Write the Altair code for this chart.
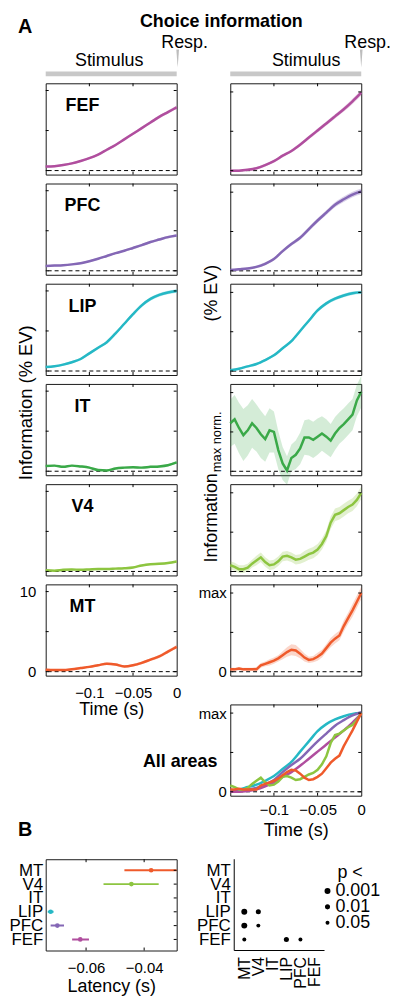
import altair as alt
import pandas as pd

FONT = "Liberation Sans"

# ---------------- data ----------------
T16 = [-0.15, -0.14, -0.13, -0.12, -0.11, -0.10, -0.09, -0.08, -0.07, -0.06,
       -0.05, -0.04, -0.03, -0.02, -0.01, 0.0]
T31 = [-0.15, -0.145, -0.14, -0.135, -0.13, -0.125, -0.12, -0.115, -0.11, -0.105,
       -0.10, -0.095, -0.09, -0.085, -0.08, -0.075, -0.07, -0.065, -0.06, -0.055,
       -0.05, -0.045, -0.04, -0.035, -0.03, -0.025, -0.02, -0.015, -0.01, -0.005, 0.0]

AREAS = ["FEF", "PFC", "LIP", "IT", "V4", "MT"]
COLORS = ["#B04E9E", "#8467B5", "#25B8C5", "#3AA948", "#8DC540", "#EF5A2B"]

# information, % explained variance (left column)
FEF_ABS = [0.50, 0.55, 0.70, 0.90, 1.20, 1.55, 2.00, 2.60, 3.20, 3.90, 4.60, 5.30, 6.00, 6.70, 7.30, 7.90]
FEF_ABS_ERR = [0.12, 0.12, 0.12, 0.13, 0.13, 0.14, 0.14, 0.15, 0.15, 0.16, 0.17, 0.18, 0.19, 0.20, 0.21, 0.22]
PFC_ABS = [0.60, 0.65, 0.70, 0.80, 0.95, 1.20, 1.50, 1.85, 2.20, 2.50, 2.85, 3.20, 3.60, 3.90, 4.20, 4.40]
PFC_ABS_ERR = [0.10, 0.10, 0.10, 0.10, 0.11, 0.11, 0.12, 0.12, 0.13, 0.13, 0.14, 0.14, 0.15, 0.15, 0.16, 0.16]
LIP_ABS = [0.50, 0.60, 0.80, 1.10, 1.50, 2.20, 2.90, 3.60, 4.70, 5.90, 7.10, 8.20, 9.00, 9.50, 9.80, 10.00]
LIP_ABS_ERR = [0.12, 0.12, 0.13, 0.14, 0.15, 0.16, 0.17, 0.18, 0.19, 0.20, 0.21, 0.22, 0.22, 0.22, 0.22, 0.22]
IT_ABS = [0.65, 0.70, 0.55, 0.70, 0.60, 0.45, 0.15, 0.10, 0.35, 0.45, 0.50, 0.45, 0.55, 0.60, 0.75, 1.10]
IT_ABS_ERR = [0.12, 0.12, 0.12, 0.12, 0.12, 0.12, 0.12, 0.12, 0.12, 0.12, 0.12, 0.12, 0.12, 0.13, 0.13, 0.14]
V4_ABS = [0.15, 0.10, 0.20, 0.25, 0.20, 0.25, 0.30, 0.30, 0.35, 0.40, 0.50, 0.75, 0.90, 0.95, 1.05, 1.25]
V4_ABS_ERR = [0.10, 0.10, 0.10, 0.10, 0.10, 0.10, 0.10, 0.10, 0.10, 0.10, 0.10, 0.11, 0.11, 0.12, 0.12, 0.13]
MT_ABS = [0.25, 0.20, 0.20, 0.30, 0.45, 0.60, 0.80, 1.00, 0.90, 0.65, 0.80, 1.10, 1.50, 1.90, 2.50, 3.10]
MT_ABS_ERR = [0.10, 0.10, 0.10, 0.11, 0.12, 0.13, 0.14, 0.15, 0.15, 0.15, 0.16, 0.17, 0.18, 0.19, 0.20, 0.22]

# information normalised to its maximum (right column)
FEF_NORM = [0.00, 0.00, 0.01, 0.03, 0.07, 0.12, 0.19, 0.25, 0.33, 0.42, 0.51, 0.60, 0.69, 0.78, 0.88, 0.99]
FEF_NORM_ERR = [0.015, 0.015, 0.015, 0.016, 0.017, 0.018, 0.019, 0.020, 0.021, 0.022, 0.024, 0.026, 0.028, 0.030, 0.033, 0.035]
PFC_NORM = [0.01, 0.02, 0.03, 0.05, 0.09, 0.15, 0.25, 0.34, 0.42, 0.53, 0.64, 0.74, 0.84, 0.91, 0.97, 1.01]
PFC_NORM_ERR = [0.015, 0.015, 0.016, 0.017, 0.018, 0.019, 0.020, 0.022, 0.024, 0.026, 0.028, 0.030, 0.032, 0.034, 0.036, 0.038]
LIP_NORM = [0.01, 0.03, 0.06, 0.09, 0.14, 0.20, 0.29, 0.38, 0.51, 0.64, 0.77, 0.86, 0.92, 0.96, 0.99, 1.00]
LIP_NORM_ERR = [0.012, 0.012, 0.013, 0.014, 0.015, 0.016, 0.017, 0.018, 0.019, 0.020, 0.021, 0.022, 0.022, 0.022, 0.022, 0.022]
IT_NORM = [0.61, 0.66, 0.55, 0.46, 0.52, 0.61, 0.55, 0.47, 0.41, 0.52, 0.50, 0.27, 0.10, 0.01, 0.17, 0.21,
           0.29, 0.43, 0.43, 0.40, 0.44, 0.48, 0.44, 0.39, 0.48, 0.55, 0.60, 0.66, 0.72, 0.90, 1.01]
IT_NORM_ERR = [0.30, 0.31, 0.32, 0.33, 0.32, 0.31, 0.30, 0.30, 0.29, 0.28, 0.26, 0.24, 0.21, 0.18, 0.17, 0.18,
               0.20, 0.22, 0.23, 0.23, 0.23, 0.22, 0.22, 0.21, 0.21, 0.20, 0.20, 0.20, 0.20, 0.20, 0.20]
V4_NORM = [0.08, 0.06, 0.03, 0.03, 0.05, 0.10, 0.14, 0.18, 0.12, 0.08, 0.09, 0.13, 0.19, 0.20, 0.18, 0.15,
           0.16, 0.19, 0.22, 0.24, 0.28, 0.35, 0.45, 0.62, 0.72, 0.74, 0.78, 0.82, 0.85, 0.91, 1.00]
V4_NORM_ERR = [0.05, 0.05, 0.05, 0.05, 0.05, 0.05, 0.06, 0.06, 0.06, 0.06, 0.06, 0.06, 0.06, 0.06, 0.06, 0.06,
               0.06, 0.07, 0.07, 0.07, 0.07, 0.07, 0.07, 0.08, 0.08, 0.08, 0.08, 0.08, 0.08, 0.08, 0.08]
MT_NORM = [0.03, 0.03, 0.04, 0.03, 0.03, 0.03, 0.03, 0.08, 0.10, 0.12, 0.14, 0.17, 0.21, 0.25, 0.28, 0.27,
           0.23, 0.18, 0.15, 0.16, 0.19, 0.23, 0.30, 0.37, 0.42, 0.46, 0.58, 0.68, 0.78, 0.89, 1.00]
MT_NORM_ERR = [0.02, 0.02, 0.02, 0.02, 0.02, 0.02, 0.03, 0.03, 0.03, 0.04, 0.04, 0.04, 0.05, 0.06, 0.07, 0.07,
               0.06, 0.05, 0.04, 0.04, 0.05, 0.05, 0.05, 0.06, 0.06, 0.06, 0.07, 0.07, 0.08, 0.08, 0.08]

# panel B
ROW_ORDER = ["MT", "V4", "IT", "LIP", "PFC", "FEF"]
LAT_AREA = ["MT", "V4", "LIP", "PFC", "FEF"]
LAT_MEAN = [-0.0376, -0.0444, -0.0722, -0.0699, -0.0620]
LAT_LO = [-0.0468, -0.0540, -0.0732, -0.0722, -0.0648]
LAT_HI = [-0.0280, -0.0350, -0.0712, -0.0676, -0.0590]

SIG_ROW = ["LIP", "LIP", "PFC", "PFC", "FEF", "FEF", "FEF"]
SIG_COL = ["MT", "V4", "MT", "V4", "MT", "LIP", "PFC"]
SIG_P = ["0.001", "0.01", "0.001", "0.05", "0.05", "0.01", "0.05"]
P_LEVELS = ["0.001", "0.01", "0.05"]
P_SIZES = [36, 16, 6]

TIME_TICKS = [-0.1, -0.05, 0.0]
ABS_TICKS = [0, 5, 10]
NORM_TICKS = [0, 0.5, 1]

# ---------------- helpers ----------------
W, H = 132, 92
XS = alt.Scale(domain=[-0.15, 0.0], nice=False, zero=False)
YA = alt.Scale(domain=[-0.5, 10.9], nice=False, zero=False)
YN = alt.Scale(domain=[-0.05, 1.11], nice=False, zero=False)
NOBOX = alt.ViewBackground(stroke="transparent")
COLOR = dict(zip(AREAS, COLORS))


def text_layer(s, x, y, size=18, bold=False, align="center", baseline="alphabetic", angle=0):
    kw = dict(font=FONT, fontSize=size, align=align, baseline=baseline, color="black")
    if bold:
        kw["fontWeight"] = "bold"
    if angle:
        kw["angle"] = angle
    return alt.Chart(pd.DataFrame({"s": [s]})).mark_text(**kw).encode(
        x=alt.value(x), y=alt.value(y), text="s:N")


def inward_ticks(xt, yt, xscale, yscale, xaxis, yaxis, L=3, xtype="Q", ytype="Q",
                 sides=("b", "t", "l", "r")):
    out = []
    tx = pd.DataFrame({"tv": xt})
    ty = pd.DataFrame({"tv": yt})
    for side, a, b in [("b", H, H - L), ("t", 0, L)]:
        if side in sides and xt:
            out.append(alt.Chart(tx).mark_rule(color="black", strokeWidth=1).encode(
                x=alt.X(f"tv:{xtype}", scale=xscale, axis=xaxis), y=alt.value(a), y2=alt.value(b)))
    for side, a, b in [("l", 0, L), ("r", W, W - L)]:
        if side in sides and yt:
            out.append(alt.Chart(ty).mark_rule(color="black", strokeWidth=1).encode(
                y=alt.Y(f"tv:{ytype}", scale=yscale, axis=yaxis), x=alt.value(a), x2=alt.value(b)))
    return out


def time_axis(lp, tp):
    return alt.Axis(values=TIME_TICKS, title="Time (s)", labelPadding=lp, titlePadding=tp,
                    labelFlush=False, labelOverlap=False,
                    labelExpr="datum.value == 0 ? '0' : (datum.value < -0.075 ? '\u22120.1' : '\u22120.05')")


def zero_line(yscale, yaxis):
    return alt.Chart(pd.DataFrame({"z": [0.0]})).mark_rule(
        color="black", strokeDash=[4, 3], strokeWidth=1).encode(y=alt.Y("z:Q", scale=yscale, axis=yaxis))


def trace_panel(t, v, e, color, yscale, yticks, name=None, xaxis=None, yaxis=None,
                interp="monotone", band_op=0.3, extra=()):
    df = pd.DataFrame({"t": t, "v": v, "e": e})
    df["lo"] = df["v"] - df["e"]
    df["hi"] = df["v"] + df["e"]
    band = alt.Chart(df).mark_area(color=color, opacity=band_op, interpolate=interp).encode(
        x=alt.X("t:Q", scale=XS, axis=xaxis),
        y=alt.Y("lo:Q", scale=yscale, axis=yaxis), y2="hi:Q")
    line = alt.Chart(df).mark_line(color=color, strokeWidth=2.5, interpolate=interp).encode(
        x=alt.X("t:Q", scale=XS, axis=xaxis), y=alt.Y("v:Q", scale=yscale, axis=yaxis))
    layers = [band, zero_line(yscale, yaxis), line] + inward_ticks([-0.1, -0.05], yticks, XS, yscale,
                                                                   xaxis, yaxis)
    if name:
        layers.append(text_layer(name, 37, 28, size=18, bold=True))
    layers += list(extra)
    return alt.layer(*layers).properties(width=W, height=H)


def header_layers(stim_cx, resp_cx, marker_dx):
    bar = alt.Chart(pd.DataFrame({"a": [-0.15], "b": [0.0]})).mark_rule(
        color="#C8C8C8", strokeWidth=5).encode(
        x=alt.X("a:Q", scale=XS, axis=None), x2="b:Q", y=alt.value(-9.5))
    marker = alt.Chart(pd.DataFrame({"a": [0.0]})).mark_point(
        shape="M-0.15,-1L0.15,-1L0,1Z", filled=True, color="#BDBDBD", opacity=1, size=324,
        xOffset=marker_dx).encode(x=alt.X("a:Q", scale=XS, axis=None), y=alt.value(-25))
    return [bar, marker,
            text_layer("Stimulus", stim_cx, -17),
            text_layer("Resp.", resp_cx, -36)]


AXL_ABS = alt.Axis(values=[0, 10], title=None, labelPadding=10, labelFlush=False, labelOverlap=False)
AXL_NORM = alt.Axis(values=[0, 1], title=None, labelPadding=4, labelFlush=False, labelOverlap=False,
                    labelExpr="datum.value == 1 ? 'max' : '0'")

# ---------------- panel A ----------------
fef_l = trace_panel(T16, FEF_ABS, FEF_ABS_ERR, COLOR["FEF"], YA, ABS_TICKS, name="FEF",
                    extra=header_layers(64, 140, 1) + [
                        text_layer("A", -28, -51, size=20, bold=True, align="left"),
                        text_layer("Choice information", 177, -57, size=18, bold=True)])
fef_r = trace_panel(T16, FEF_NORM, FEF_NORM_ERR, COLOR["FEF"], YN, NORM_TICKS,
                    extra=header_layers(76.5, 138.5, 0))
pfc_l = trace_panel(T16, PFC_ABS, PFC_ABS_ERR, COLOR["PFC"], YA, ABS_TICKS, name="PFC")
pfc_r = trace_panel(T16, PFC_NORM, PFC_NORM_ERR, COLOR["PFC"], YN, NORM_TICKS)
lip_l = trace_panel(T16, LIP_ABS, LIP_ABS_ERR, COLOR["LIP"], YA, ABS_TICKS, name="LIP")
lip_r = trace_panel(T16, LIP_NORM, LIP_NORM_ERR, COLOR["LIP"], YN, NORM_TICKS)
it_l = trace_panel(T16, IT_ABS, IT_ABS_ERR, COLOR["IT"], YA, ABS_TICKS, name="IT",
                   extra=[text_layer("Information (% EV)", -20, 19, size=18.5, baseline="middle", angle=270)])
it_r = trace_panel(T31, IT_NORM, IT_NORM_ERR, COLOR["IT"], YN, NORM_TICKS, interp="linear", band_op=0.22,
                   extra=[text_layer("Information", -18, 180, size=18, align="left", baseline="middle", angle=270),
                          text_layer("max norm.", -13, 89, size=13, align="left", baseline="middle", angle=270),
                          text_layer("(% EV)", -18, -120, size=18, align="right", baseline="middle", angle=270)])
v4_l = trace_panel(T16, V4_ABS, V4_ABS_ERR, COLOR["V4"], YA, ABS_TICKS, name="V4")
v4_r = trace_panel(T31, V4_NORM, V4_NORM_ERR, COLOR["V4"], YN, NORM_TICKS, interp="linear", band_op=0.25)
mt_l = trace_panel(T16, MT_ABS, MT_ABS_ERR, COLOR["MT"], YA, ABS_TICKS, name="MT",
                   xaxis=time_axis(10, 0), yaxis=AXL_ABS)
mt_r = trace_panel(T31, MT_NORM, MT_NORM_ERR, COLOR["MT"], YN, NORM_TICKS, interp="linear", band_op=0.25,
                   yaxis=AXL_NORM)

# all areas overlay
ALL_X = time_axis(7, 4)
all_layers = [zero_line(YN, AXL_NORM)]
for nm, t, v in [("LIP", T16, LIP_NORM), ("PFC", T16, PFC_NORM), ("FEF", T16, FEF_NORM),
                 ("V4", T31, V4_NORM), ("MT", T31, MT_NORM)]:
    df = pd.DataFrame({"t": t, "v": v})
    all_layers.append(alt.Chart(df).mark_line(color=COLOR[nm], strokeWidth=2.5,
                                              interpolate="monotone" if len(t) == 16 else "linear").encode(
        x=alt.X("t:Q", scale=XS, axis=ALL_X), y=alt.Y("v:Q", scale=YN, axis=AXL_NORM)))
all_p = alt.layer(*(all_layers + inward_ticks([-0.1, -0.05], NORM_TICKS, XS, YN, ALL_X, AXL_NORM) +
                    [text_layer("All areas", -13, 63, size=18, bold=True, align="right")])
                  ).properties(width=W, height=H)


def spacer(h):
    return alt.Chart(pd.DataFrame({"a": [0]})).mark_point(opacity=0).encode(
        x=alt.value(0), y=alt.value(0)).properties(width=W, height=h, view=NOBOX)


# ---------------- panel B ----------------
LATX = alt.Scale(domain=[-0.0739, -0.0288], nice=False, zero=False)
ROWS = alt.Scale(type="point", domain=ROW_ORDER, padding=0.8)
CSC = alt.Scale(domain=AREAS, range=COLORS)
LAT_XAX = alt.Axis(values=[-0.06, -0.04], format=".2f", title="Latency (s)", labelPadding=10,
                   titlePadding=2, labelFlush=False, labelOverlap=False)
LAT_YAX = alt.Axis(title=None, labelFontSize=17, labelPadding=3)
lat_df = pd.DataFrame({"area": LAT_AREA, "lat": LAT_MEAN, "lo": LAT_LO, "hi": LAT_HI})
lat_err = alt.Chart(lat_df).mark_rule(strokeWidth=2, clip=True).encode(
    x=alt.X("lo:Q", scale=LATX, axis=LAT_XAX), x2="hi:Q",
    y=alt.Y("area:N", scale=ROWS, axis=LAT_YAX),
    color=alt.Color("area:N", scale=CSC, legend=None))
lat_pts = alt.Chart(lat_df).mark_circle(size=22, opacity=1).encode(
    x=alt.X("lat:Q", scale=LATX, axis=LAT_XAX), y=alt.Y("area:N", scale=ROWS, axis=LAT_YAX),
    color=alt.Color("area:N", scale=CSC, legend=None))
lat = alt.layer(lat_err, lat_pts,
                *inward_ticks([-0.06, -0.04], ROW_ORDER, LATX, ROWS, LAT_XAX, LAT_YAX,
                              ytype="N", sides=("b", "t", "r")),
                text_layer("B", -28, -23, size=20, bold=True, align="left")).properties(width=W, height=H)

SW = 99
SIGX = alt.Scale(type="point", domain=ROW_ORDER, padding=1.036)
PSIZE = alt.Scale(domain=P_LEVELS, range=P_SIZES)
PY = alt.Scale(type="point", domain=P_LEVELS, range=[32, 64], padding=0)
sig_df = pd.DataFrame({"row": SIG_ROW, "col": SIG_COL, "p": SIG_P})
leg_df = pd.DataFrame({"p": P_LEVELS})
one = pd.DataFrame({"a": [0]})
vline = alt.Chart(one).mark_rule(color="black", strokeWidth=1).encode(
    x=alt.value(4), y=alt.value(0), y2=alt.value(H))
hline = alt.Chart(one).mark_rule(color="black", strokeWidth=1).encode(
    x=alt.value(4), x2=alt.value(95), y=alt.value(H))
dots = alt.Chart(sig_df).mark_circle(color="black", opacity=1).encode(
    x=alt.X("col:N", scale=SIGX, axis=alt.Axis(title=None, labelAngle=270, labelPadding=6, labelFontSize=16)),
    y=alt.Y("row:N", scale=ROWS, axis=alt.Axis(title=None, labelFontSize=17, labelPadding=0)),
    size=alt.Size("p:N", scale=PSIZE, legend=None))
ldots = alt.Chart(leg_df).mark_circle(color="black", opacity=1).encode(
    x=alt.value(98), y=alt.Y("p:N", scale=PY, axis=None), size=alt.Size("p:N", scale=PSIZE, legend=None))
ltext = alt.Chart(leg_df).mark_text(font=FONT, fontSize=18, align="left", baseline="middle").encode(
    x=alt.value(106), y=alt.Y("p:N", scale=PY, axis=None), text="p:N")
sig = alt.layer(vline, hline, dots, ldots, ltext,
                text_layer("p <", 108, 14, size=18, align="left", baseline="middle")
                ).resolve_scale(y="independent").properties(width=SW, height=H, view=NOBOX)

blank = spacer(H)

cells = [fef_l, fef_r, pfc_l, pfc_r, lip_l, lip_r, it_l, it_r, v4_l, v4_r, mt_l, mt_r,
         spacer(11), spacer(11), blank, all_p, spacer(46), spacer(46), lat, sig]

chart = alt.concat(*cells, columns=2, spacing={"row": 9, "column": 54}, bounds="flush").properties(
    padding=0
).configure_view(stroke="#1a1a1a", strokeWidth=1).configure_axis(
    grid=False, ticks=False, tickSize=0, domain=False, labelFont=FONT, titleFont=FONT,
    labelFontSize=15, titleFontSize=18, titleFontWeight="normal", labelColor="black", titleColor="black"
).configure_text(font=FONT)

chart.save("out.html", embed_options={"renderer": "svg", "actions": False})
